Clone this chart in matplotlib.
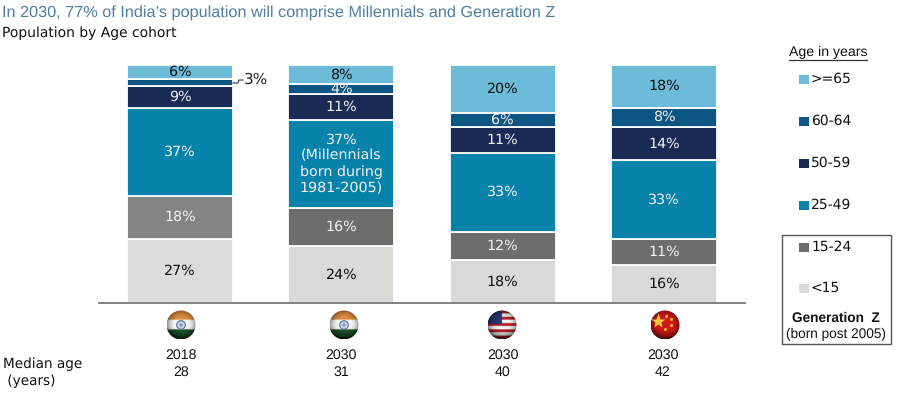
import matplotlib
matplotlib.use("Agg")
import matplotlib.pyplot as plt
import numpy as np
from matplotlib.patches import Circle, Rectangle

W, H = 900, 393

years = ["2018", "2030", "2030", "2030"]
median_age = ["28", "31", "40", "42"]
flags = ["india", "india", "usa", "china"]

# bottom to top
lt15 = [27, 24, 18, 16]
a15_24 = [18, 16, 12, 11]
a25_49 = [37, 37, 33, 33]
a50_59 = [9, 11, 11, 14]
a60_64 = [3, 4, 6, 8]
ge65 = [6, 8, 20, 18]

legend_labels = [">=65", "60-64", "50-59", "25-49", "15-24", "<15"]

C_LT15 = ["#dcdcdc", "#d9dad5", "#d9dad5", "#d9dad5"]
C_1524 = ["#848484", "#6d6d6a", "#6d6d6a", "#6d6d6a"]
C_2549 = "#0682ab"
C_5059 = "#192b55"
C_6064 = "#0d5583"
C_GE65 = "#6cbcd9"

plt.rcParams["font.family"] = ["DejaVu Sans"]
plt.rcParams["text.hinting"] = "no_hinting"
ARIAL = "Liberation Sans"

fig = plt.figure(figsize=(W / 100, H / 100), dpi=100)

# bars: centres at 180, 341.3, 502.7, 664 px, baseline y=303, top y=65
ax = fig.add_axes([99 / W, 1 - 303 / H, (745 - 99) / W, (303 - 65) / H])
ax.set_xlim((99 - 180) / 161.33, (745 - 180) / 161.33)
ax.set_ylim(0, 100)
ax.patch.set_alpha(0)
for s in ["top", "left", "right"]:
    ax.spines[s].set_visible(False)
ax.spines["bottom"].set_color("#777777")
ax.spines["bottom"].set_linewidth(1.3)
ax.set_xticks([])
ax.set_yticks([])

series = [
    (lt15, C_LT15, "#111111"),
    (a15_24, C_1524, "#f2f2f2"),
    (a25_49, C_2549, "#f2f2f2"),
    (a50_59, C_5059, "#f2f2f2"),
    (a60_64, C_6064, "#f2f2f2"),
    (ge65, C_GE65, "#111111"),
]
x = np.arange(4)
bottom = np.zeros(4)
for vals, col, tcol in series:
    bars = ax.bar(x, vals, 106 / 161.33, bottom=bottom, color=col,
                  edgecolor="white", linewidth=1.3, zorder=2)
    for i, v in enumerate(vals):
        if vals is a60_64 and i == 0:
            continue
        if vals is a25_49 and i == 1:
            continue
        t = ax.text(i, bottom[i] + v / 2, f"{v}%", ha="center", va="center",
                    color=tcol, fontsize=10.3, zorder=3)
        if vals is a60_64 and i == 1:
            t.set_clip_path(bars[i])
    bottom += np.array(vals)

ax.text(1, lt15[1] + a15_24[1] + a25_49[1] / 2, "37%\n(Millennials\nborn during\n1981-2005)",
        ha="center", va="center", color="#f2f2f2", fontsize=10.3, linespacing=1.25, zorder=3)

# overlay in pixel coordinates for text, legend and flags
ov = fig.add_axes([0, 0, 1, 1])
ov.set_xlim(0, W)
ov.set_ylim(H, 0)
ov.axis("off")
ov.patch.set_alpha(0)

ov.text(2, 13, "In 2030, 77% of India\u2019s population will comprise Millennials and Generation Z",
        family=ARIAL, fontsize=11.7, color="#4f7ea3", va="center")
ov.text(2, 33, "Population by Age cohort", fontsize=10, color="#111111", va="center")

# 3% callout
ov.plot([233, 238, 239, 243], [83, 83, 80, 80], color="#333333", lw=0.8)
ov.text(244, 80, f"{a60_64[0]}%", fontsize=11, color="#222222", va="center")


def sphere(kind):
    n = 60
    yy, xx = np.mgrid[-1:1:n * 1j, -1:1:n * 1j]
    img = np.ones((n, n, 3))
    if kind == "india":
        img[yy < -0.33] = [0.87, 0.55, 0.25]
        img[yy > 0.33] = [0.1, 0.33, 0.16]
        img[(yy >= -0.33) & (yy <= 0.33)] = [0.97, 0.97, 0.97]
    elif kind == "usa":
        stripe = ((yy + 1) / 2 * 9).astype(int) % 2 == 0
        img[stripe] = [0.72, 0.13, 0.17]
        img[~stripe] = [0.96, 0.96, 0.96]
        img[(xx < -0.05) & (yy < -0.05)] = [0.16, 0.2, 0.45]
    else:
        img[:] = [0.82, 0.1, 0.08]
    # sphere shading: dark at bottom and rim
    r = np.sqrt(xx ** 2 + yy ** 2)
    shade = np.clip(1.05 - 0.45 * r ** 3 - 0.35 * np.clip(yy, 0, 1) ** 2, 0, 1)
    return np.clip(img * shade[..., None], 0, 1)


flag_cx = [181, 344, 502, 665]
flag_cy, flag_r = 325, 14.5
for cx, kind in zip(flag_cx, flags):
    im = ov.imshow(sphere(kind), extent=[cx - flag_r, cx + flag_r, flag_cy + flag_r, flag_cy - flag_r],
                   zorder=2, interpolation="bilinear", aspect="auto")
    im.set_clip_path(Circle((cx, flag_cy), flag_r, transform=ov.transData))
    if kind == "india":
        ov.add_patch(Circle((cx, flag_cy), 4.3, fc="#c9d3e3", ec="#5f6f9c", lw=0.8, zorder=3))
        ov.add_patch(Circle((cx, flag_cy), 1.5, fc="#7f8fb5", ec="none", zorder=4))
    if kind == "china":
        ov.plot(cx - 7, flag_cy - 4, marker="*", ms=11, color="#f0c93a", mec="none", zorder=3)
        ov.plot([cx + 1, cx + 6, cx + 6, cx], [flag_cy - 9, flag_cy - 6, flag_cy, flag_cy + 4],
                ls="none", marker="o", ms=2.2, color="#e8b840", mec="none", zorder=3)

ov.set_xlim(0, W)
ov.set_ylim(H, 0)

bar_cx = [181, 341, 503, 663]
for cx, yr, age in zip(bar_cx, years, median_age):
    ov.text(cx, 355, yr, family=ARIAL, ha="center", va="center", fontsize=10.2, color="#111111")
    ov.text(cx, 372, age, family=ARIAL, ha="center", va="center", fontsize=10.2, color="#111111")

ov.text(3, 364, "Median age", fontsize=9.8, color="#111111", va="center")
ov.text(3, 381, " (years)", fontsize=9.8, color="#111111", va="center")

# legend
ov.text(789, 52.5, "Age in years", family=ARIAL, fontsize=10.2, color="#111111", va="center")
ov.plot([789, 867], [60, 60], color="#333333", lw=0.9)
leg_colors = [C_GE65, C_6064, C_5059, C_2549, C_1524[1], C_LT15[1]]
leg_y = [79, 121, 163, 205, 247, 288]
for y, c, lab in zip(leg_y, leg_colors, legend_labels):
    ov.add_patch(Rectangle((799, y - 4.5), 9.5, 9.5, fc=c, ec="none"))
    ov.text(811, y, lab, fontsize=10, color="#111111", va="center")

ov.add_patch(Rectangle((782, 235), 109, 109, fc="none", ec="#555555", lw=1))
ov.text(836, 318, "Generation  Z", family=ARIAL, fontweight="bold", fontsize=9.8,
        ha="center", va="center", color="#111111")
ov.text(836, 334, "(born post 2005)", family=ARIAL, fontsize=9.8,
        ha="center", va="center", color="#111111")

fig.savefig("out.png", dpi=100)
